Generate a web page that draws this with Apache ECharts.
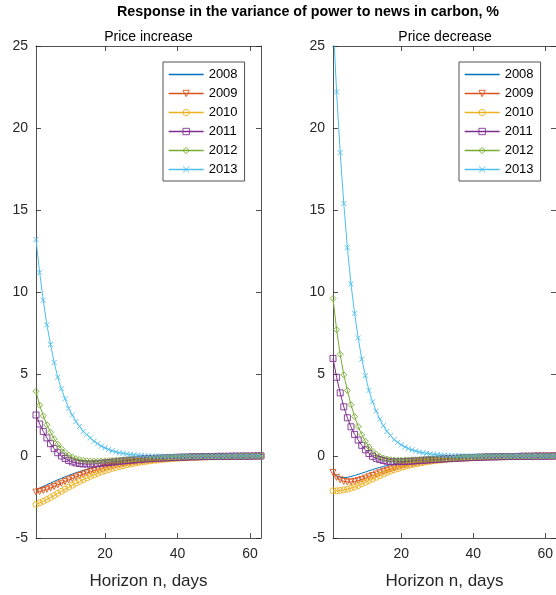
<!DOCTYPE html>
<html>
<head>
<meta charset="utf-8">
<script src="https://cdn.jsdelivr.net/npm/echarts@6/dist/echarts.min.js"></script>
<style>
  html, body { margin: 0; padding: 0; background: #fff; }
  #container { width: 556px; height: 595px; }
</style>
</head>
<body>
<div id="container"></div>
<script>
// horizon (days)
var days = [
  1, 2, 3, 4, 5, 6, 7, 8, 9, 10,
  11, 12, 13, 14, 15, 16, 17, 18, 19, 20,
  21, 22, 23, 24, 25, 26, 27, 28, 29, 30,
  31, 32, 33, 34, 35, 36, 37, 38, 39, 40,
  41, 42, 43, 44, 45, 46, 47, 48, 49, 50,
  51, 52, 53, 54, 55, 56, 57, 58, 59, 60,
  61, 62, 63
];
var years = ['2008', '2009', '2010', '2011', '2012', '2013'];
var xTicks = [20, 40, 60];

// Price increase
var inc2008 = [
  -2.05, -1.95, -1.85, -1.75, -1.65, -1.55, -1.45, -1.36, -1.27, -1.18,
  -1.10, -1.02, -0.95, -0.88, -0.82, -0.76, -0.71, -0.66, -0.61, -0.57,
  -0.53, -0.49, -0.45, -0.42, -0.39, -0.36, -0.33, -0.30, -0.28, -0.26,
  -0.24, -0.22, -0.20, -0.19, -0.17, -0.16, -0.15, -0.14, -0.13, -0.12,
  -0.11, -0.10, -0.09, -0.09, -0.08, -0.07, -0.07, -0.06, -0.06, -0.05,
  -0.05, -0.04, -0.04, -0.04, -0.03, -0.03, -0.03, -0.02, -0.02, -0.02,
  -0.02, -0.01, -0.01
];
var inc2009 = [
  -2.20, -2.16, -2.10, -2.03, -1.95, -1.86, -1.76, -1.66, -1.56, -1.46,
  -1.37, -1.28, -1.19, -1.11, -1.03, -0.96, -0.89, -0.82, -0.76, -0.70,
  -0.65, -0.60, -0.55, -0.51, -0.47, -0.43, -0.40, -0.37, -0.34, -0.31,
  -0.28, -0.26, -0.24, -0.22, -0.20, -0.18, -0.17, -0.15, -0.14, -0.13,
  -0.12, -0.11, -0.10, -0.09, -0.08, -0.08, -0.07, -0.06, -0.06, -0.05,
  -0.05, -0.04, -0.04, -0.04, -0.03, -0.03, -0.03, -0.02, -0.02, -0.02,
  -0.02, -0.01, -0.01
];
var inc2010 = [
  -2.95, -2.86, -2.76, -2.65, -2.53, -2.41, -2.28, -2.15, -2.02, -1.90,
  -1.78, -1.66, -1.55, -1.44, -1.34, -1.24, -1.15, -1.06, -0.98, -0.90,
  -0.83, -0.76, -0.70, -0.64, -0.59, -0.54, -0.49, -0.45, -0.41, -0.37,
  -0.34, -0.31, -0.28, -0.26, -0.23, -0.21, -0.19, -0.17, -0.16, -0.14,
  -0.13, -0.12, -0.11, -0.10, -0.09, -0.08, -0.07, -0.07, -0.06, -0.05,
  -0.05, -0.04, -0.04, -0.04, -0.03, -0.03, -0.03, -0.02, -0.02, -0.02,
  -0.02, -0.01, -0.01
];
var inc2011 = [
  2.50, 1.95, 1.50, 1.10, 0.75, 0.45, 0.20, 0.00, -0.15, -0.27,
  -0.36, -0.42, -0.46, -0.48, -0.49, -0.49, -0.48, -0.46, -0.44, -0.42,
  -0.40, -0.37, -0.35, -0.32, -0.30, -0.28, -0.26, -0.24, -0.22, -0.20,
  -0.18, -0.17, -0.15, -0.14, -0.13, -0.12, -0.11, -0.10, -0.09, -0.08,
  -0.07, -0.07, -0.06, -0.05, -0.05, -0.04, -0.04, -0.03, -0.03, -0.03,
  -0.02, -0.02, -0.02, -0.02, -0.01, -0.01, -0.01, -0.01, -0.01, -0.01,
  0.00, 0.00, 0.00
];
var inc2012 = [
  3.95, 3.10, 2.45, 1.90, 1.45, 1.05, 0.72, 0.45, 0.22, 0.05,
  -0.07, -0.16, -0.22, -0.26, -0.29, -0.30, -0.31, -0.31, -0.30, -0.29,
  -0.28, -0.27, -0.26, -0.24, -0.23, -0.21, -0.20, -0.18, -0.17, -0.16,
  -0.15, -0.14, -0.12, -0.11, -0.10, -0.09, -0.08, -0.08, -0.07, -0.06,
  -0.05, -0.05, -0.04, -0.04, -0.03, -0.03, -0.03, -0.02, -0.02, -0.02,
  -0.02, -0.01, -0.01, -0.01, -0.01, -0.01, 0.00, 0.00, 0.00, 0.00,
  0.00, 0.00, 0.00
];
var inc2013 = [
  13.20, 11.20, 9.50, 8.00, 6.80, 5.70, 4.80, 4.10, 3.50, 2.90,
  2.50, 2.10, 1.80, 1.50, 1.30, 1.10, 0.90, 0.75, 0.60, 0.50,
  0.40, 0.32, 0.25, 0.20, 0.16, 0.12, 0.09, 0.07, 0.05, 0.03,
  0.02, 0.01, 0.00, -0.01, -0.01, -0.02, -0.02, -0.02, -0.02, -0.02,
  -0.02, -0.02, -0.02, -0.02, -0.02, -0.02, -0.01, -0.01, -0.01, -0.01,
  -0.01, -0.01, -0.01, -0.01, 0.00, 0.00, 0.00, 0.00, 0.00, 0.00,
  0.00, 0.00, 0.00
];

// Price decrease
var dec2008 = [
  -1.00, -1.20, -1.30, -1.32, -1.30, -1.25, -1.19, -1.12, -1.05, -0.98,
  -0.90, -0.83, -0.76, -0.70, -0.64, -0.58, -0.53, -0.48, -0.44, -0.40,
  -0.36, -0.33, -0.30, -0.27, -0.25, -0.23, -0.21, -0.19, -0.17, -0.16,
  -0.14, -0.13, -0.12, -0.11, -0.10, -0.09, -0.08, -0.08, -0.07, -0.06,
  -0.06, -0.05, -0.05, -0.04, -0.04, -0.04, -0.03, -0.03, -0.03, -0.02,
  -0.02, -0.02, -0.02, -0.02, -0.01, -0.01, -0.01, -0.01, -0.01, -0.01,
  -0.01, 0.00, 0.00
];
var dec2009 = [
  -1.00, -1.30, -1.45, -1.55, -1.58, -1.58, -1.55, -1.50, -1.43, -1.35,
  -1.27, -1.19, -1.10, -1.02, -0.94, -0.87, -0.80, -0.73, -0.67, -0.61,
  -0.56, -0.51, -0.47, -0.43, -0.39, -0.35, -0.32, -0.29, -0.27, -0.24,
  -0.22, -0.20, -0.18, -0.17, -0.15, -0.14, -0.13, -0.12, -0.11, -0.10,
  -0.09, -0.08, -0.07, -0.07, -0.06, -0.05, -0.05, -0.04, -0.04, -0.04,
  -0.03, -0.03, -0.03, -0.02, -0.02, -0.02, -0.02, -0.01, -0.01, -0.01,
  -0.01, -0.01, 0.00
];
var dec2010 = [
  -2.12, -2.12, -2.10, -2.07, -2.02, -1.96, -1.89, -1.80, -1.70, -1.60,
  -1.50, -1.40, -1.30, -1.20, -1.10, -1.00, -0.92, -0.84, -0.77, -0.70,
  -0.64, -0.58, -0.53, -0.48, -0.44, -0.40, -0.36, -0.33, -0.30, -0.27,
  -0.25, -0.22, -0.20, -0.18, -0.17, -0.15, -0.14, -0.13, -0.12, -0.11,
  -0.10, -0.09, -0.08, -0.07, -0.07, -0.06, -0.05, -0.05, -0.04, -0.04,
  -0.04, -0.03, -0.03, -0.03, -0.02, -0.02, -0.02, -0.02, -0.01, -0.01,
  -0.01, -0.01, 0.00
];
var dec2011 = [
  5.95, 4.80, 3.85, 3.00, 2.33, 1.78, 1.32, 0.97, 0.65, 0.38,
  0.15, -0.02, -0.14, -0.22, -0.28, -0.32, -0.34, -0.35, -0.35, -0.34,
  -0.33, -0.32, -0.31, -0.29, -0.28, -0.26, -0.25, -0.23, -0.22, -0.20,
  -0.19, -0.18, -0.16, -0.15, -0.14, -0.13, -0.12, -0.11, -0.10, -0.09,
  -0.08, -0.08, -0.07, -0.06, -0.06, -0.05, -0.05, -0.04, -0.04, -0.03,
  -0.03, -0.03, -0.02, -0.02, -0.02, -0.02, -0.01, -0.01, -0.01, -0.01,
  -0.01, 0.00, 0.00
];
var dec2012 = [
  9.60, 7.70, 6.20, 4.95, 4.00, 3.13, 2.40, 1.80, 1.30, 0.90,
  0.55, 0.30, 0.10, -0.03, -0.12, -0.18, -0.22, -0.24, -0.25, -0.25,
  -0.25, -0.24, -0.23, -0.22, -0.21, -0.20, -0.19, -0.18, -0.17, -0.16,
  -0.15, -0.14, -0.13, -0.12, -0.11, -0.10, -0.09, -0.08, -0.08, -0.07,
  -0.06, -0.06, -0.05, -0.05, -0.04, -0.04, -0.03, -0.03, -0.03, -0.02,
  -0.02, -0.02, -0.02, -0.01, -0.01, -0.01, -0.01, -0.01, 0.00, 0.00,
  0.00, 0.00, 0.00
];
var dec2013 = [
  26.60, 22.20, 18.50, 15.40, 12.70, 10.50, 8.70, 7.20, 5.90, 4.90,
  4.00, 3.30, 2.75, 2.25, 1.85, 1.50, 1.25, 1.00, 0.83, 0.68,
  0.55, 0.45, 0.37, 0.30, 0.24, 0.20, 0.16, 0.13, 0.10, 0.08,
  0.06, 0.05, 0.04, 0.03, 0.02, 0.01, 0.01, 0.00, 0.00, 0.00,
  0.00, 0.00, 0.00, 0.00, 0.00, 0.00, 0.00, 0.00, 0.00, 0.00,
  0.00, 0.00, 0.00, 0.00, 0.00, 0.00, 0.00, 0.00, 0.00, 0.00,
  0.00, 0.00, 0.00
];

var incData = [inc2008, inc2009, inc2010, inc2011, inc2012, inc2013];
var decData = [dec2008, dec2009, dec2010, dec2011, dec2012, dec2013];

// matlab default colours + markers
var colors = ['#0072BD', '#D95319', '#EDB120', '#7E2F8E', '#77AC30', '#4DBEEE'];
var symbols = ['none', 'triangle', 'circle', 'rect', 'diamond', 'path://M0,0L10,10M10,0L0,10'];

var FONT = '"Liberation Sans", Arial, Helvetica, sans-serif';
var AX = '#262626';

function pairs(vals) {
  return vals.map(function (v, i) { return [days[i], v]; });
}

function mkSeries(i, vals, gi) {
  return {
    name: years[i],
    type: 'line',
    xAxisIndex: gi * 2,
    yAxisIndex: gi * 2,
    data: pairs(vals),
    symbol: symbols[i],
    symbolSize: i == 5 ? 5 : 6,
    symbolRotate: i == 1 ? 180 : 0,
    showSymbol: i != 0,
    showAllSymbol: true,
    clip: true,
    lineStyle: { color: colors[i], width: 1 },
    itemStyle: { color: 'rgba(0,0,0,0)', borderColor: colors[i], borderWidth: 0.9 },
    emphasis: { disabled: true }
  };
}

function xAx(gi, pos) {
  var bottom = pos == 'bottom';
  return {
    type: 'value', gridIndex: gi, position: pos, min: 1, max: 63,
    name: bottom ? 'Horizon n, days' : '',
    nameLocation: 'middle', nameGap: 35,
    nameTextStyle: { fontFamily: FONT, fontSize: 17, color: AX },
    axisLine: { show: true, onZero: false, lineStyle: { color: AX, width: 0.8 } },
    axisTick: { show: true, inside: true, length: 5, customValues: xTicks, lineStyle: { color: AX, width: 0.8 } },
    axisLabel: { show: bottom, customValues: xTicks, margin: 9, fontFamily: FONT, fontSize: 14, color: AX },
    splitLine: { show: false }
  };
}

function yAx(gi, pos) {
  var left = pos == 'left';
  return {
    type: 'value', gridIndex: gi, position: pos, min: -5, max: 25, interval: 5,
    axisLine: { show: true, onZero: false, lineStyle: { color: AX, width: 0.8 } },
    axisTick: { show: true, inside: true, length: 5, lineStyle: { color: AX, width: 0.8 } },
    axisLabel: { show: left, margin: 8, fontFamily: FONT, fontSize: 14, color: AX },
    splitLine: { show: false }
  };
}

function mkLegend(left) {
  // 2008 has no marker, so hide the legend symbol for it
  var items = years.map(function (y, i) {
    var it = { name: y, lineStyle: { color: colors[i], width: 1.3 } };
    if (i == 0) it.itemStyle = { borderWidth: 0, color: 'rgba(0,0,0,0)' };
    return it;
  });
  return {
    orient: 'vertical', left: left, top: 62,
    data: items,
    backgroundColor: '#fff', borderColor: AX, borderWidth: 0.8,
    padding: [6, 7, 5, 5], itemWidth: 35, itemHeight: 8, itemGap: 6,
    itemStyle: { borderWidth: 0.9 },
    textStyle: { fontFamily: FONT, fontSize: 13, lineHeight: 13, color: '#000' },
    selectedMode: false
  };
}

var series = [];
incData.forEach(function (v, i) { series.push(mkSeries(i, v, 0)); });
decData.forEach(function (v, i) { series.push(mkSeries(i, v, 1)); });

var dom = document.getElementById('container');
var myChart = echarts.init(dom, null, { renderer: 'canvas' });
var option = {
  animation: false,
  backgroundColor: '#fff',
  title: [
    { text: 'Response in the variance of power to news in carbon, %', left: 308, top: 5, textAlign: 'center', padding: 0,
      textStyle: { fontFamily: FONT, fontSize: 14.3, fontWeight: 'bold', color: '#000' } },
    { text: 'Price increase', left: 148.5, top: 30, textAlign: 'center', padding: 0,
      textStyle: { fontFamily: FONT, fontSize: 14, fontWeight: 'normal', color: '#000' } },
    { text: 'Price decrease', left: 445, top: 30, textAlign: 'center', padding: 0,
      textStyle: { fontFamily: FONT, fontSize: 14, fontWeight: 'normal', color: '#000' } }
  ],
  legend: [mkLegend(163), mkLegend(459)],
  grid: [
    { left: 36, top: 46, width: 225, height: 495 },
    { left: 333, top: 46, width: 224, height: 495 }
  ],
  xAxis: [xAx(0, 'bottom'), xAx(0, 'top'), xAx(1, 'bottom'), xAx(1, 'top')],
  yAxis: [yAx(0, 'left'), yAx(0, 'right'), yAx(1, 'left'), yAx(1, 'right')],
  series: series
};
myChart.setOption(option, true);
</script>
</body>
</html>
